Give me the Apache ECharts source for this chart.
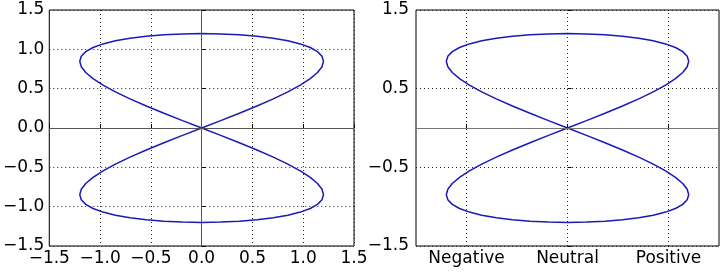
<!DOCTYPE html>
<html>
<head>
<meta charset="utf-8">
<script src="https://cdn.jsdelivr.net/npm/echarts@6/dist/echarts.min.js"></script>
<style>
html, body { margin: 0; padding: 0; background: #fff; }
#chart { width: 725px; height: 272px; }
</style>
</head>
<body>
<div id="chart"></div>
<script>
// figure-eight curve, points (both panels show the same curve)
var curveX = [0, 0.188, 0.371, 0.545, 0.705, 0.849, 0.971, 1.069, 1.141, 1.185, 1.2, 1.185, 1.141, 1.069, 0.971, 0.849, 0.705, 0.545, 0.371, 0.188, 0,
	-0.188, -0.371, -0.545, -0.705, -0.849, -0.971, -1.069, -1.141, -1.185, -1.2, -1.185, -1.141, -1.069, -0.971, -0.849, -0.705, -0.545, -0.371, -0.188, 0,
	0.188, 0.371, 0.545, 0.705, 0.849, 0.971, 1.069, 1.141, 1.185, 1.2, 1.185, 1.141, 1.069, 0.971, 0.849, 0.705, 0.545, 0.371, 0.188, 0,
	-0.188, -0.371, -0.545, -0.705, -0.849, -0.971, -1.069, -1.141, -1.185, -1.2, -1.185, -1.141, -1.069, -0.971, -0.849, -0.705, -0.545, -0.371, -0.188, 0];
var curveY = [1.2, 1.196, 1.185, 1.167, 1.141, 1.109, 1.069, 1.023, 0.971, 0.912, 0.849, 0.779, 0.705, 0.627, 0.545, 0.459, 0.371, 0.28, 0.188, 0.094, 0,
	-0.094, -0.188, -0.28, -0.371, -0.459, -0.545, -0.627, -0.705, -0.779, -0.849, -0.912, -0.971, -1.023, -1.069, -1.109, -1.141, -1.167, -1.185, -1.196, -1.2,
	-1.196, -1.185, -1.167, -1.141, -1.109, -1.069, -1.023, -0.971, -0.912, -0.849, -0.779, -0.705, -0.627, -0.545, -0.459, -0.371, -0.28, -0.188, -0.094, 0,
	0.094, 0.188, 0.28, 0.371, 0.459, 0.545, 0.627, 0.705, 0.779, 0.849, 0.912, 0.971, 1.023, 1.069, 1.109, 1.141, 1.167, 1.185, 1.196, 1.2];

// right panel x tick labels
var rightXTicks = [-1, 0, 1];
var rightXLabels = ['Negative', 'Neutral', 'Positive'];

var points = [];
for (var i = 0; i < curveX.length; i++) {
	points.push([curveX[i], curveY[i]]);
}

var font = 'DejaVu Sans';
var fsize = 17;
var gridDot = { color: '#222', width: 1, type: [1, 3] };

function num(v) {
	return v.toFixed(1).replace('-', '\u2212');
}

var chart = echarts.init(document.getElementById('chart'));
var option = {
	backgroundColor: '#fff',
	animation: false,
	grid: [
		{ left: 49, top: 10, width: 305, height: 236, show: true, borderColor: '#000', borderWidth: 1 },
		{ left: 416, top: 10, width: 303, height: 236, show: true, borderColor: '#000', borderWidth: 1 }
	],
	xAxis: [{
		gridIndex: 0,
		type: 'value',
		min: -1.5, max: 1.5, interval: 0.5,
		axisLine: { show: false },
		axisTick: { inside: true, length: 4, lineStyle: { color: '#000' } },
		axisLabel: { color: '#000', fontFamily: font, fontSize: fsize, margin: 4, formatter: num, showMinLabel: true, showMaxLabel: true },
		splitLine: { show: true, lineStyle: gridDot }
	}, {
		gridIndex: 1,
		type: 'value',
		min: -1.5, max: 1.5, interval: 0.5,
		axisLine: { show: false },
		axisTick: { inside: true, length: 4, customValues: rightXTicks, lineStyle: { color: '#000' } },
		axisLabel: {
			color: '#000', fontFamily: font, fontSize: fsize, margin: 4,
			customValues: rightXTicks,
			formatter: function(v) {
				var k = rightXTicks.indexOf(v);
				return k >= 0 ? rightXLabels[k] : '';
			}
		},
		splitLine: { show: false }
	}],
	yAxis: [{
		gridIndex: 0,
		type: 'value',
		min: -1.5, max: 1.5, interval: 0.5,
		axisLine: { show: false },
		axisTick: { inside: true, length: 4, lineStyle: { color: '#000' } },
		axisLabel: { color: '#000', fontFamily: font, fontSize: fsize, margin: 5, formatter: num, showMinLabel: true, showMaxLabel: true },
		splitLine: { show: true, lineStyle: gridDot }
	}, {
		gridIndex: 1,
		type: 'value',
		min: -1.5, max: 1.5, interval: 1,
		axisLine: { show: false },
		axisTick: { inside: true, length: 4, lineStyle: { color: '#000' } },
		axisLabel: { color: '#000', fontFamily: font, fontSize: fsize, margin: 7, formatter: num, showMinLabel: true, showMaxLabel: true },
		splitLine: { show: true, lineStyle: gridDot }
	}],
	series: [{
		// zero lines, left panel
		type: 'line', xAxisIndex: 0, yAxisIndex: 0, data: [], z: 1,
		markLine: {
			silent: true, symbol: 'none', label: { show: false },
			lineStyle: { color: '#555', width: 1, type: 'solid' },
			data: [{ xAxis: 0 }, { yAxis: 0 }]
		}
	}, {
		// grid + zero line, right panel
		type: 'line', xAxisIndex: 1, yAxisIndex: 1, data: [], z: 1,
		markLine: {
			silent: true, symbol: 'none', label: { show: false },
			lineStyle: gridDot,
			data: [
				{ xAxis: rightXTicks[0] }, { xAxis: rightXTicks[1] }, { xAxis: rightXTicks[2] },
				{ yAxis: 0, lineStyle: { color: '#777', width: 1, type: 'solid' } }
			]
		}
	}, {
		type: 'line', xAxisIndex: 0, yAxisIndex: 0, z: 3,
		data: points,
		showSymbol: false,
		lineStyle: { color: '#1a1ab8', width: 1.5 }
	}, {
		type: 'line', xAxisIndex: 1, yAxisIndex: 1, z: 3,
		data: points,
		showSymbol: false,
		lineStyle: { color: '#1a1ab8', width: 1.5 }
	}]
};
chart.setOption(option);
</script>
</body>
</html>
